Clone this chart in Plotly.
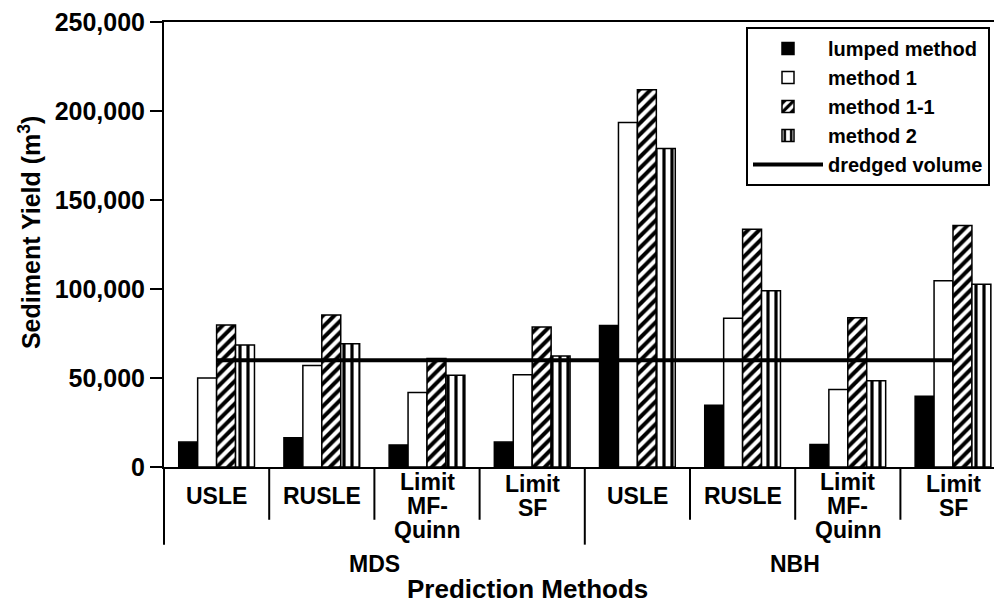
import plotly.graph_objects as go

# ---------------- data ----------------
groups = ["MDS", "NBH"]
subcats = ["USLE", "RUSLE", "Limit<br>MF-<br>Quinn", "Limit<br>SF"]
categories = [s for g in groups for s in subcats]
lumped = [14000, 16500, 12400, 14000, 79500, 34700, 12700, 39700]
method1 = [50000, 57000, 41800, 51800, 193500, 83500, 43600, 104600]
method1_1 = [79800, 85400, 61000, 78700, 212000, 133500, 83900, 135700]
method2 = [68600, 69200, 51500, 62300, 179000, 99000, 48500, 102700]
dredged_volume = 60000
y_ticks = [0, 50000, 100000, 150000, 200000, 250000]

# ---------------- layout constants ----------------
W, H = 1002, 604
OFF = 8                      # page body margin
ML, MR, MT = 164 - OFF, 0, 20 - OFF
MB = H - (467 - OFF)
PW = W - ML - MR
PH = H - MT - MB
CAT_PX = 105.2
xpos = list(range(len(categories)))
XMIN = -0.5
XMAX = XMIN + PW / CAT_PX
FONT = "Liberation Sans, Arial, sans-serif"


def py(page_y):
    return 1 - (page_y - OFF - MT) / PH


def pxp(page_x):
    return (page_x - OFF - ML) / PW


def x_to_paper(x):
    return (x - XMIN) / (XMAX - XMIN)


def bold(size):
    return dict(size=size, color="black", family=FONT, weight="bold")


fig = go.Figure()
line_style = dict(color="black", width=1.5)
fig.add_trace(go.Bar(name="lumped method", x=xpos, y=lumped,
                     marker=dict(color="black", line=line_style)))
fig.add_trace(go.Bar(name="method 1", x=xpos, y=method1,
                     marker=dict(color="white", line=line_style)))
fig.add_trace(go.Bar(name="method 1-1", x=xpos, y=method1_1,
                     marker=dict(color="white", line=line_style,
                                 pattern=dict(shape="/", fgcolor="black", bgcolor="white",
                                              size=8, solidity=0.5, fillmode="replace"))))
fig.add_trace(go.Bar(name="method 2", x=xpos, y=method2,
                     marker=dict(color="white", line=line_style,
                                 pattern=dict(shape="|", fgcolor="black", bgcolor="white",
                                              size=8, solidity=0.4, fillmode="replace"))))
fig.add_trace(go.Scatter(name="dredged volume", x=xpos, y=[dredged_volume] * len(xpos),
                         mode="lines", line=dict(color="black", width=4)))

# separators below the axis
shapes = []
for i in range(len(categories)):
    xb = x_to_paper(i - 0.5)
    outer = (i % len(subcats) == 0)
    shapes.append(dict(type="line", xref="paper", yref="paper", x0=xb, x1=xb,
                       y0=0, y1=py(545 if outer else 520),
                       line=dict(color="black", width=2)))

annotations = []
LINE_H = 24
for i, lab in enumerate(categories):
    lines = lab.split("<br>")
    center = 496 if len(lines) < 3 else 506
    first = center - (len(lines) - 1) * LINE_H / 2
    for k, t in enumerate(lines):
        annotations.append(dict(x=i, y=py(first + k * LINE_H), xref="x", yref="paper",
                                text=t, showarrow=False, xanchor="center", yanchor="middle",
                                font=bold(23)))
for gi, g in enumerate(groups):
    cx = gi * len(subcats) + (len(subcats) - 1) / 2
    annotations.append(dict(x=cx, y=py(564), xref="x", yref="paper",
                            text=g, showarrow=False, xanchor="center", yanchor="middle",
                            font=bold(23)))
annotations.append(dict(x=pxp(527), y=py(590), xref="paper", yref="paper",
                        text="Prediction Methods", showarrow=False, xanchor="center",
                        yanchor="middle", font=bold(26)))
annotations.append(dict(x=pxp(30), y=py(232), xref="paper", yref="paper",
                        text="Sediment Yield (m<sup>3</sup>)", textangle=-90, showarrow=False,
                        xanchor="center", yanchor="middle", font=bold(25)))

fig.update_layout(
    width=W, height=H,
    margin=dict(l=ML, r=MR, t=MT, b=MB, pad=0),
    paper_bgcolor="white", plot_bgcolor="white",
    barmode="group", bargap=0.28, bargroupgap=0,
    font=dict(family=FONT, color="black", size=20, weight="bold"),
    showlegend=True,
    legend=dict(x=pxp(746), y=py(25), xanchor="left", yanchor="top",
                bgcolor="white", bordercolor="black", borderwidth=2,
                font=bold(20), tracegroupgap=0, itemwidth=70),
    shapes=shapes,
    annotations=annotations,
)
fig.update_xaxes(range=[XMIN, XMAX], showticklabels=False, ticks="", showgrid=False,
                 zeroline=False, showline=True, linecolor="black", linewidth=2, mirror=True)
fig.update_yaxes(range=[0, 250000], tickvals=y_ticks, tickformat=",d", ticks="outside",
                 ticklen=12, tickwidth=2, tickcolor="black", showgrid=False, zeroline=False,
                 showline=True, linecolor="black", linewidth=2, tickfont=bold(25),
                 ticklabeloverflow="allow")

fig.write_html("out.html")
